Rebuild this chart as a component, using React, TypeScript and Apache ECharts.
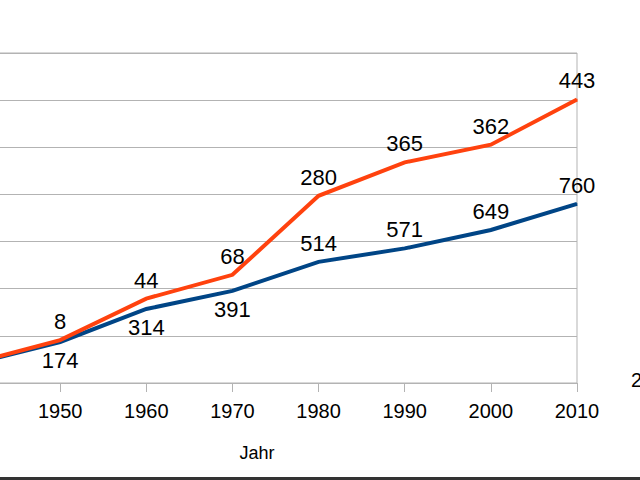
import React, { useEffect, useRef } from 'react';
import * as echarts from 'echarts';

// Jahre (x-Achse), 1940 liegt links ausserhalb des Bildes
const years = ['1940', '1950', '1960', '1970', '1980', '1990', '2000', '2010'];
// untere Reihe (blau)
const seriesA = [82, 174, 314, 391, 514, 571, 649, 760];
// gestapelte Reihe (orange), Werte sind Zuwachs über der blauen
const seriesB = [3, 8, 44, 68, 280, 365, 362, 443];
// Beschriftung der blauen Reihe unter dem Punkt?
const blueLabelBelow = [true, true, true, true, false, false, false, false];

const yTicks = { min: 0, max: 1400, interval: 200 };

const App: React.FC = () => {
    const chartRef = useRef<HTMLDivElement>(null);

    useEffect(() => {
        if (!chartRef.current) return;
        const chart = echarts.init(chartRef.current, undefined, { renderer: 'svg' });

        const font = 'Liberation Sans, Arial, sans-serif';
        const labelBase = {
            show: true,
            fontSize: 22,
            fontFamily: font,
            color: '#000',
            distance: 7,
        };

        const option = {
            animation: false,
            backgroundColor: '#ffffff',
            grid: {
                left: 74,
                right: 63,
                top: 53,
                bottom: 97,
                show: true,
                borderColor: '#b3b3b3',
                borderWidth: 1,
            },
            xAxis: {
                type: 'category',
                data: years,
                boundaryGap: false,
                axisLine: { lineStyle: { color: '#b3b3b3', width: 1 } },
                axisTick: { show: true, length: 9, lineStyle: { color: '#b3b3b3' } },
                axisLabel: {
                    color: '#000',
                    fontSize: 20,
                    fontFamily: font,
                    margin: 18,
                    // 1940 liegt ausserhalb des Ausschnitts
                    interval: (i: number) => i > 0,
                },
                splitLine: { show: false },
            },
            yAxis: {
                type: 'value',
                min: yTicks.min,
                max: yTicks.max,
                interval: yTicks.interval,
                axisLine: { show: false },
                axisTick: { show: false },
                axisLabel: { show: false },
                splitLine: { lineStyle: { color: '#b3b3b3', width: 1 } },
            },
            series: [
                {
                    name: 'A',
                    type: 'line',
                    stack: 'total',
                    data: seriesA.map((v, i) => ({
                        value: v,
                        label: {
                            show: i > 0,
                            position: blueLabelBelow[i] ? 'bottom' : 'top',
                        },
                    })),
                    symbol: 'circle',
                    symbolSize: 1,
                    showAllSymbol: true,
                    lineStyle: { color: '#004586', width: 4, join: 'miter' },
                    itemStyle: { color: '#004586' },
                    label: labelBase,
                    z: 3,
                },
                {
                    name: 'B',
                    type: 'line',
                    stack: 'total',
                    data: seriesB.map((v, i) => ({ value: v, label: { show: i > 0 } })),
                    symbol: 'circle',
                    symbolSize: 1,
                    showAllSymbol: true,
                    lineStyle: { color: '#ff420e', width: 4, join: 'miter' },
                    itemStyle: { color: '#ff420e' },
                    label: { ...labelBase, position: 'top' },
                    z: 4,
                },
            ],
            graphic: [
                {
                    type: 'text',
                    x: 357,
                    y: 453,
                    style: {
                        text: 'Jahr',
                        fontSize: 18,
                        fontFamily: font,
                        fill: '#000',
                        textAlign: 'center',
                        textVerticalAlign: 'middle',
                    },
                },
                {
                    type: 'text',
                    x: 731,
                    y: 380,
                    style: {
                        text: '2',
                        fontSize: 20,
                        fontFamily: font,
                        fill: '#000',
                        textAlign: 'left',
                        textVerticalAlign: 'middle',
                    },
                },
                {
                    type: 'rect',
                    shape: { x: 0, y: 477, width: 740, height: 3 },
                    style: { fill: '#333333' },
                },
            ],
        };

        chart.setOption(option);
        return () => {
            chart.dispose();
        };
    }, []);

    return (
        <div
            ref={chartRef}
            style={{ position: 'fixed', left: -100, top: 0, width: 740, height: 480 }}
        />
    );
};

export default App;
